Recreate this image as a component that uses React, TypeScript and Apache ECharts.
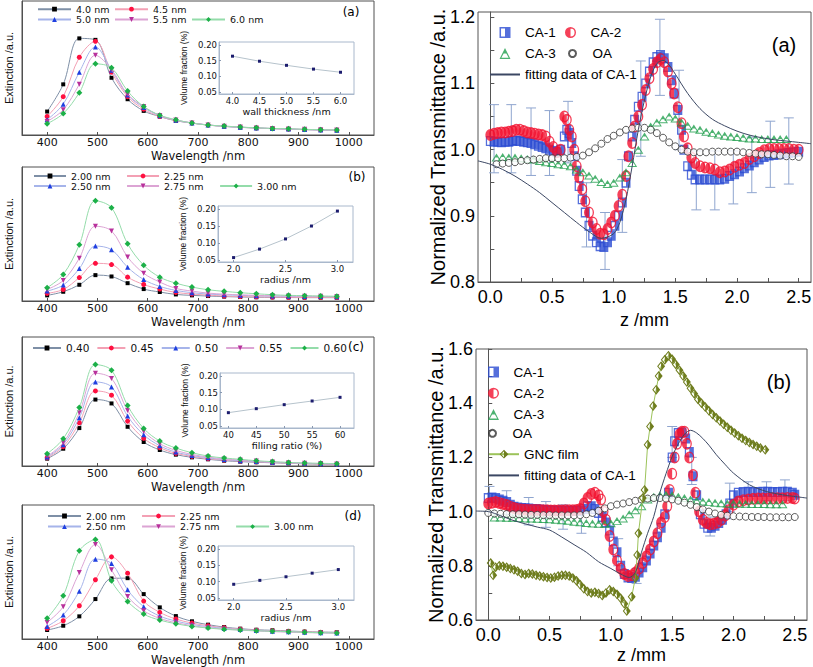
import React, { useEffect, useRef } from 'react';
import * as echarts from 'echarts';

// ================= LEFT PANELS: extinction spectra (relative units 0-100) =================
const wavelength = [400, 432, 464, 496, 528, 560, 592, 624, 656, 688, 720, 752, 784, 816, 848, 880, 912, 944, 976];
const wavelengthTicks = [400, 500, 600, 700, 800, 900, 1000];

const namesA = ['4.0 nm', '4.5 nm', '5.0 nm', '5.5 nm', '6.0 nm'];
const extA_40 = [17.5, 37.8, 72.1, 71.0, 42.7, 26.7, 18.0, 13.8, 10.6, 8.9, 7.4, 6.4, 5.7, 5.2, 4.7, 4.4, 4.0, 3.7, 3.5];
const extA_45 = [13.8, 28.6, 58.0, 69.9, 46.9, 28.6, 19.3, 13.8, 10.9, 8.9, 7.4, 6.5, 5.8, 5.2, 4.8, 4.4, 4.1, 3.8, 3.6];
const extA_50 = [11.4, 23.0, 46.9, 65.7, 48.4, 29.9, 20.5, 14.3, 11.1, 9.0, 7.5, 6.5, 5.8, 5.3, 4.8, 4.5, 4.1, 3.8, 3.6];
const extA_55 = [10.1, 18.8, 37.8, 59.5, 48.9, 30.4, 21.2, 14.6, 11.2, 9.0, 7.5, 6.6, 5.9, 5.3, 4.9, 4.5, 4.2, 3.9, 3.7];
const extA_60 = [8.4, 16.0, 31.6, 53.1, 50.1, 32.8, 21.2, 14.8, 11.4, 8.9, 7.4, 6.7, 5.9, 5.4, 4.9, 4.7, 4.2, 4.0, 3.7];

const namesB = ['2.00 nm', '2.25 nm', '2.50 nm', '2.75 nm', '3.00 nm'];
const extB_200 = [4.2, 6.9, 12.1, 19.3, 18.3, 13.3, 8.9, 6.7, 4.9, 4.2, 3.7, 3.3, 3.0, 2.8, 2.7, 2.6, 2.5, 2.5, 2.5];
const extB_225 = [5.7, 8.6, 17.5, 28.1, 27.2, 17.8, 12.3, 8.9, 6.4, 5.2, 4.4, 3.7, 3.3, 3.1, 2.9, 2.8, 2.7, 2.7, 2.6];
const extB_250 = [7.4, 11.9, 24.2, 41.0, 38.3, 25.2, 16.0, 10.9, 7.9, 6.2, 5.2, 4.6, 4.2, 3.9, 3.7, 3.5, 3.4, 3.3, 3.2];
const extB_275 = [8.6, 15.3, 31.9, 55.8, 52.3, 32.8, 20.7, 14.1, 9.4, 7.4, 5.9, 5.1, 4.6, 4.2, 3.9, 3.7, 3.6, 3.5, 3.4];
const extB_300 = [9.9, 19.8, 42.0, 74.8, 69.6, 42.7, 26.7, 17.8, 13.3, 10.4, 8.4, 7.2, 6.2, 5.4, 4.7, 4.2, 4.0, 3.7, 3.5];

const namesC = ['0.40', '0.45', '0.50', '0.55', '0.60'];
const extC_40 = [5.7, 13.4, 29.4, 51.5, 48.5, 30.4, 18.6, 12.4, 8.8, 6.7, 5.2, 4.1, 3.4, 2.9, 2.5, 2.1, 1.7, 1.4, 1.2];
const extC_45 = [6.4, 15.0, 33.5, 58.2, 54.9, 34.8, 21.4, 14.2, 9.8, 7.5, 5.7, 4.6, 3.8, 3.2, 2.7, 2.3, 1.9, 1.6, 1.4];
const extC_50 = [7.0, 16.5, 37.4, 65.2, 61.3, 38.7, 24.2, 15.7, 10.8, 8.2, 6.3, 5.0, 4.1, 3.5, 2.9, 2.5, 2.1, 1.8, 1.5];
const extC_55 = [7.5, 18.0, 41.2, 71.9, 67.8, 43.0, 26.8, 17.3, 12.1, 9.0, 6.9, 5.5, 4.6, 3.8, 3.1, 2.6, 2.2, 1.9, 1.6];
const extC_60 = [9.5, 21.1, 45.4, 78.6, 74.2, 46.9, 29.1, 19.3, 13.9, 10.3, 7.7, 6.2, 5.2, 4.1, 3.4, 2.8, 2.3, 2.1, 1.8];

const namesD = ['2.00 nm', '2.25 nm', '2.50 nm', '2.75 nm', '3.00 nm'];
const extD_200 = [6.7, 9.9, 16.9, 29.8, 45.2, 45.4, 33.5, 23.6, 17.1, 13.2, 10.7, 8.9, 7.7, 6.9, 6.5, 6.0, 5.5, 5.2, 5.0];
const extD_225 = [7.9, 13.6, 24.8, 44.2, 61.3, 49.1, 28.3, 19.9, 14.9, 11.9, 9.9, 8.4, 7.3, 6.6, 6.1, 5.7, 5.3, 5.0, 4.8];
const extD_250 = [9.4, 17.9, 35.7, 59.6, 56.3, 36.7, 24.1, 17.1, 13.4, 10.9, 9.2, 7.9, 7.0, 6.3, 5.8, 5.4, 5.0, 4.7, 4.5];
const extD_275 = [12.4, 24.1, 49.6, 70.5, 51.6, 31.8, 21.1, 15.4, 12.2, 10.0, 8.5, 7.4, 6.6, 6.0, 5.5, 5.1, 4.8, 4.5, 4.3];
const extD_300 = [15.4, 32.3, 65.8, 74.2, 43.4, 28.0, 18.6, 14.1, 11.4, 9.4, 8.2, 7.2, 6.7, 6.2, 5.7, 5.5, 5.0, 4.7, 4.5];

// ================= INSETS: volume fraction =================
const insetA_x = [4.0, 4.5, 5.0, 5.5, 6.0];
const insetA_y = [0.164, 0.148, 0.135, 0.123, 0.113];
const insetB_x = [2.0, 2.25, 2.5, 2.75, 3.0];
const insetB_y = [0.057, 0.082, 0.112, 0.150, 0.194];
const insetC_x = [40, 45, 50, 55, 60];
const insetC_y = [0.090, 0.102, 0.114, 0.125, 0.136];
const insetD_x = [2.0, 2.25, 2.5, 2.75, 3.0];
const insetD_y = [0.092, 0.104, 0.115, 0.126, 0.137];

// ================= RIGHT PANEL (a): Z-scan =================
const zTicksMajor = [0, 0.5, 1.0, 1.5, 2.0, 2.5];
const zTicksMinor = [0, 0.25, 0.5, 0.75, 1.0, 1.25, 1.5, 1.75, 2.0, 2.25, 2.5];
const tA_labels = [0.8, 0.9, 1.0, 1.1, 1.2];
const tA_ticks = [0.8, 0.85, 0.9, 0.95, 1.0, 1.05, 1.1, 1.15, 1.2];
const tB_labels = [0.6, 0.8, 1.0, 1.2, 1.4, 1.6];
const tB_ticks = [0.6, 0.7, 0.8, 0.9, 1.0, 1.1, 1.2, 1.3, 1.4, 1.5, 1.6];

const caA1 = [[0.0,1.013],[0.03,1.012],[0.06,1.012],[0.09,1.011],[0.12,1.012],[0.15,1.012],[0.18,1.013],[0.21,1.014],[0.24,1.013],[0.27,1.012],[0.30,1.011],[0.33,1.010],[0.36,1.008],[0.39,1.006],[0.42,1.004],[0.45,1.002],[0.48,1.000],[0.51,0.998],[0.54,0.996],[0.57,1.000],[0.60,1.020],[0.62,1.030],[0.64,1.025],[0.66,1.010],[0.68,0.990],[0.70,0.968],[0.72,0.945],[0.745,0.925],[0.77,0.905],[0.80,0.885],[0.83,0.870],[0.86,0.860],[0.89,0.854],[0.92,0.853],[0.95,0.860],[0.98,0.870],[1.01,0.885],[1.04,0.900],[1.07,0.920],[1.10,0.950],[1.12,0.990],[1.15,1.020],[1.17,1.045],[1.20,1.065],[1.23,1.080],[1.26,1.100],[1.29,1.118],[1.32,1.132],[1.35,1.140],[1.38,1.143],[1.41,1.138],[1.44,1.125],[1.47,1.105],[1.49,1.085],[1.52,1.060],[1.55,1.030],[1.57,1.000],[1.60,0.975],[1.63,0.962],[1.66,0.955],[1.70,0.955],[1.74,0.955],[1.78,0.955],[1.82,0.955],[1.86,0.955],[1.90,0.956],[1.94,0.960],[1.98,0.963],[2.02,0.967],[2.06,0.972],[2.10,0.976],[2.14,0.981],[2.18,0.985],[2.22,0.989],[2.26,0.991],[2.30,0.992],[2.34,0.993],[2.38,0.994],[2.42,0.995],[2.46,0.996],[2.50,0.997]];
const caA2 = [[0.0,1.022],[0.03,1.024],[0.06,1.025],[0.09,1.026],[0.12,1.026],[0.15,1.027],[0.18,1.028],[0.21,1.030],[0.24,1.030],[0.27,1.028],[0.30,1.026],[0.33,1.025],[0.36,1.024],[0.39,1.023],[0.42,1.022],[0.45,1.020],[0.48,1.012],[0.51,1.004],[0.54,0.996],[0.57,1.000],[0.60,1.050],[0.62,1.045],[0.64,1.030],[0.66,1.020],[0.68,1.000],[0.70,0.975],[0.72,0.958],[0.745,0.940],[0.77,0.922],[0.80,0.905],[0.83,0.890],[0.86,0.880],[0.89,0.873],[0.92,0.872],[0.95,0.880],[0.98,0.890],[1.01,0.900],[1.04,0.915],[1.07,0.932],[1.10,0.960],[1.12,0.990],[1.15,1.010],[1.17,1.035],[1.20,1.050],[1.23,1.068],[1.26,1.090],[1.29,1.108],[1.32,1.122],[1.35,1.132],[1.38,1.137],[1.41,1.132],[1.44,1.118],[1.47,1.100],[1.49,1.085],[1.52,1.064],[1.55,1.040],[1.57,1.020],[1.60,1.002],[1.63,0.988],[1.66,0.980],[1.70,0.975],[1.74,0.973],[1.78,0.972],[1.82,0.970],[1.86,0.966],[1.90,0.967],[1.94,0.970],[1.98,0.974],[2.02,0.977],[2.06,0.980],[2.10,0.986],[2.14,0.990],[2.18,0.995],[2.22,0.999],[2.26,1.001],[2.30,1.001],[2.34,1.001],[2.38,1.001],[2.42,1.001],[2.46,1.000],[2.50,1.000]];
const caA3 = [[0.05,0.988],[0.1,0.989],[0.15,0.988],[0.2,0.988],[0.25,0.987],[0.3,0.986],[0.35,0.985],[0.4,0.983],[0.45,0.981],[0.5,0.980],[0.55,0.978],[0.6,0.977],[0.65,0.975],[0.7,0.970],[0.75,0.966],[0.8,0.961],[0.85,0.956],[0.9,0.951],[0.95,0.948],[1.0,0.950],[1.05,0.958],[1.1,0.966],[1.15,0.980],[1.2,1.000],[1.25,1.020],[1.3,1.035],[1.35,1.041],[1.4,1.046],[1.45,1.050],[1.5,1.047],[1.55,1.041],[1.6,1.036],[1.65,1.032],[1.7,1.030],[1.75,1.027],[1.8,1.025],[1.85,1.023],[1.9,1.021],[1.95,1.020],[2.0,1.019],[2.05,1.018],[2.1,1.017],[2.15,1.017],[2.2,1.016],[2.25,1.016],[2.3,1.016],[2.35,1.016],[2.4,1.016]];
const oaA = [[0.05,0.978],[0.1,0.979],[0.15,0.980],[0.2,0.981],[0.25,0.983],[0.3,0.984],[0.35,0.985],[0.4,0.986],[0.45,0.987],[0.5,0.987],[0.55,0.987],[0.6,0.987],[0.65,0.988],[0.7,0.989],[0.75,0.991],[0.8,0.996],[0.85,1.002],[0.9,1.009],[0.95,1.016],[1.0,1.021],[1.05,1.026],[1.1,1.030],[1.15,1.032],[1.2,1.033],[1.25,1.033],[1.3,1.030],[1.35,1.025],[1.4,1.018],[1.45,1.011],[1.5,1.005],[1.55,1.000],[1.6,0.997],[1.65,0.996],[1.7,0.996],[1.75,0.996],[1.8,0.997],[1.85,0.997],[1.9,0.997],[1.95,0.997],[2.0,0.997],[2.05,0.996],[2.1,0.995],[2.15,0.994],[2.2,0.993],[2.25,0.993],[2.3,0.992],[2.35,0.991],[2.4,0.990],[2.45,0.990],[2.5,0.989]];
const fitA = [[-0.1,0.983],[0.0,0.978],[0.1,0.970],[0.2,0.960],[0.3,0.948],[0.4,0.935],[0.5,0.920],[0.6,0.905],[0.7,0.890],[0.8,0.876],[0.9,0.866],[1.0,0.873],[1.05,0.890],[1.1,0.925],[1.15,0.975],[1.2,1.030],[1.25,1.075],[1.3,1.110],[1.35,1.130],[1.4,1.135],[1.45,1.128],[1.5,1.114],[1.6,1.085],[1.7,1.062],[1.8,1.046],[1.9,1.036],[2.0,1.028],[2.1,1.022],[2.2,1.018],[2.3,1.015],[2.4,1.013],[2.5,1.011],[2.6,1.009]];
const errA = [[0.03,0.965,1.068],[0.17,0.965,1.068],[0.33,0.961,1.063],[0.48,0.961,1.059],[0.63,0.980,1.073],[0.78,0.853,0.950],[0.93,0.819,0.905],[1.07,0.875,0.985],[1.22,0.990,1.134],[1.375,1.082,1.197],[1.53,1.000,1.120],[1.67,0.909,0.998],[1.82,0.909,0.998],[1.97,0.918,0.998],[2.12,0.935,1.019],[2.27,0.943,1.043],[2.42,0.948,1.048]];

// ================= RIGHT PANEL (b) =================
const caB1 = [[0.0,1.05],[0.03,1.052],[0.06,1.05],[0.09,1.045],[0.12,1.04],[0.15,1.035],[0.18,1.025],[0.21,1.018],[0.24,1.015],[0.27,1.013],[0.3,1.012],[0.33,1.011],[0.36,1.01],[0.39,1.01],[0.42,1.008],[0.45,1.006],[0.48,1.005],[0.51,1.004],[0.54,1.004],[0.57,1.003],[0.6,1.003],[0.63,1.003],[0.66,1.003],[0.69,1.003],[0.72,1.003],[0.75,1.004],[0.78,1.01],[0.81,1.02],[0.84,1.02],[0.87,1.01],[0.9,0.995],[0.93,0.98],[0.96,0.96],[0.99,0.93],[1.02,0.89],[1.05,0.85],[1.08,0.8],[1.11,0.77],[1.14,0.757],[1.17,0.755],[1.2,0.76],[1.23,0.775],[1.26,0.795],[1.29,0.82],[1.32,0.845],[1.35,0.875],[1.38,0.905],[1.41,0.94],[1.44,0.99],[1.47,1.07],[1.5,1.2],[1.52,1.26],[1.55,1.29],[1.58,1.292],[1.61,1.27],[1.64,1.22],[1.67,1.13],[1.7,1.06],[1.73,0.99],[1.76,0.955],[1.79,0.94],[1.82,0.94],[1.85,0.948],[1.88,0.958],[1.91,0.97],[1.94,0.99],[1.97,1.03],[2.0,1.06],[2.04,1.07],[2.08,1.072],[2.12,1.073],[2.16,1.072],[2.2,1.072],[2.24,1.073],[2.28,1.073],[2.32,1.072],[2.36,1.072],[2.4,1.073],[2.44,1.073],[2.48,1.07],[2.5,1.062]];
const caB2 = [[0.0,1.03],[0.03,1.033],[0.06,1.035],[0.09,1.032],[0.12,1.028],[0.15,1.024],[0.18,1.018],[0.21,1.013],[0.24,1.01],[0.27,1.008],[0.3,1.007],[0.33,1.006],[0.36,1.006],[0.39,1.006],[0.42,1.006],[0.45,1.005],[0.48,1.005],[0.51,1.004],[0.54,1.004],[0.57,1.004],[0.6,1.004],[0.63,1.005],[0.66,1.005],[0.69,1.005],[0.72,1.006],[0.75,1.01],[0.78,1.03],[0.81,1.05],[0.84,1.065],[0.87,1.07],[0.9,1.06],[0.92,1.045],[0.94,1.0],[0.96,0.97],[0.99,0.91],[1.02,0.86],[1.05,0.82],[1.08,0.79],[1.11,0.77],[1.14,0.762],[1.17,0.765],[1.2,0.775],[1.23,0.79],[1.26,0.81],[1.29,0.835],[1.32,0.86],[1.35,0.89],[1.38,0.92],[1.41,0.96],[1.44,0.98],[1.46,1.02],[1.48,1.08],[1.5,1.14],[1.52,1.2],[1.54,1.25],[1.56,1.285],[1.58,1.295],[1.6,1.295],[1.62,1.25],[1.64,1.2],[1.67,1.135],[1.69,1.07],[1.72,1.0],[1.75,0.97],[1.78,0.958],[1.81,0.953],[1.84,0.955],[1.87,0.96],[1.9,0.97],[1.93,0.985],[1.96,1.005],[2.0,1.025],[2.04,1.037],[2.08,1.042],[2.12,1.045],[2.16,1.047],[2.2,1.048],[2.24,1.048],[2.28,1.048],[2.32,1.049],[2.36,1.049],[2.4,1.049],[2.44,1.05],[2.48,1.05],[2.5,1.048]];
const caB3 = [[0.05,0.978],[0.1,0.978],[0.15,0.977],[0.2,0.977],[0.25,0.976],[0.3,0.975],[0.35,0.975],[0.4,0.974],[0.45,0.973],[0.5,0.972],[0.55,0.97],[0.6,0.968],[0.65,0.966],[0.7,0.963],[0.75,0.961],[0.8,0.958],[0.85,0.956],[0.9,0.955],[0.95,0.955],[1.0,0.957],[1.05,0.965],[1.1,0.975],[1.15,0.99],[1.2,1.005],[1.25,1.02],[1.3,1.045],[1.35,1.055],[1.4,1.06],[1.45,1.062],[1.5,1.06],[1.55,1.055],[1.6,1.05],[1.65,1.045],[1.7,1.04],[1.75,1.037],[1.8,1.035],[1.85,1.033],[1.9,1.031],[1.95,1.03],[2.0,1.03],[2.05,1.029],[2.1,1.029],[2.15,1.028],[2.2,1.028],[2.25,1.028],[2.3,1.027],[2.35,1.027],[2.4,1.027]];
const oaB = [[0.0,0.995],[0.05,0.993],[0.1,0.992],[0.15,0.991],[0.2,0.99],[0.25,0.99],[0.3,0.989],[0.35,0.988],[0.4,0.988],[0.45,0.987],[0.5,0.987],[0.55,0.986],[0.6,0.986],[0.65,0.986],[0.7,0.986],[0.75,0.987],[0.8,0.99],[0.85,0.995],[0.9,1.003],[0.95,1.012],[1.0,1.02],[1.05,1.026],[1.1,1.03],[1.15,1.035],[1.2,1.04],[1.25,1.045],[1.3,1.048],[1.35,1.05],[1.4,1.05],[1.45,1.048],[1.5,1.045],[1.55,1.04],[1.6,1.033],[1.65,1.025],[1.7,1.017],[1.75,1.008],[1.8,1.0],[1.85,0.993],[1.9,0.988],[1.95,0.985],[2.0,0.983],[2.05,0.982],[2.1,0.981],[2.15,0.98],[2.2,0.98],[2.25,0.98],[2.3,0.979],[2.35,0.979],[2.4,0.979],[2.45,0.979],[2.5,0.98]];
const gncB = [[0.02,0.81],[0.04,0.765],[0.06,0.795],[0.09,0.8],[0.12,0.798],[0.15,0.795],[0.18,0.79],[0.21,0.785],[0.24,0.78],[0.27,0.772],[0.3,0.768],[0.33,0.772],[0.36,0.77],[0.39,0.765],[0.42,0.762],[0.45,0.76],[0.48,0.757],[0.51,0.755],[0.54,0.758],[0.57,0.762],[0.6,0.765],[0.63,0.765],[0.66,0.762],[0.69,0.755],[0.72,0.745],[0.75,0.73],[0.78,0.715],[0.81,0.705],[0.84,0.7],[0.87,0.702],[0.9,0.698],[0.93,0.69],[0.96,0.7],[0.99,0.712],[1.02,0.705],[1.05,0.695],[1.08,0.68],[1.11,0.66],[1.13,0.633],[1.17,0.686],[1.2,0.755],[1.215,0.84],[1.225,0.92],[1.26,1.05],[1.275,1.08],[1.3,1.247],[1.32,1.314],[1.345,1.39],[1.37,1.45],[1.39,1.5],[1.41,1.536],[1.44,1.56],[1.47,1.575],[1.5,1.562],[1.53,1.543],[1.56,1.522],[1.59,1.5],[1.62,1.478],[1.65,1.455],[1.68,1.435],[1.71,1.415],[1.74,1.4],[1.77,1.386],[1.8,1.372],[1.83,1.358],[1.86,1.346],[1.89,1.334],[1.92,1.322],[1.95,1.311],[1.98,1.3],[2.01,1.29],[2.04,1.28],[2.07,1.271],[2.1,1.262],[2.13,1.255],[2.16,1.248],[2.19,1.241],[2.22,1.235],[2.26,1.228]];
const fitB = [[-0.1,1.002],[0.0,1.0],[0.1,0.985],[0.2,0.968],[0.3,0.955],[0.4,0.943],[0.5,0.932],[0.6,0.906],[0.7,0.878],[0.8,0.85],[0.9,0.815],[1.0,0.79],[1.1,0.765],[1.15,0.757],[1.2,0.775],[1.25,0.85],[1.3,0.92],[1.35,0.982],[1.4,1.07],[1.45,1.14],[1.5,1.203],[1.55,1.25],[1.6,1.285],[1.65,1.3],[1.7,1.29],[1.75,1.27],[1.8,1.245],[1.86,1.21],[1.93,1.175],[2.0,1.142],[2.13,1.099],[2.27,1.074],[2.4,1.062],[2.6,1.05]];
const errB = [[0.01,1.0,1.093],[0.15,0.99,1.077],[0.33,0.951,1.052],[0.47,0.942,1.037],[0.61,0.935,1.025],[0.76,0.92,1.018],[1.06,0.80,0.90],[1.21,0.735,0.79],[1.5,1.2,1.314],[1.66,1.1,1.2],[1.81,0.91,0.98],[1.97,1.0,1.105],[2.12,1.03,1.11],[2.27,1.04,1.11],[2.42,1.04,1.117]];

// ---------------- styles ----------------
const FD = 'DejaVu Sans';
const FL = 'Liberation Sans, Arial, sans-serif';
const markColors = ['#000000', '#ff1040', '#1f3fe0', '#b8309c', '#1cb048'];
const lineColors = ['#7e8fa6', '#f3a0b4', '#a6b4ea', '#dca4d4', '#94dcaa'];
const markSymbols = ['rect', 'circle', 'triangle', 'path://M0 0L10 0L5 8.66Z', 'diamond'];
const markSizes = [4, 5, 5, 5, 6];

const SYM_SQ = 'path://M0 0L10 0L10 10L0 10Z M1.4 1.4L1.4 8.6L8.6 8.6L8.6 1.4Z M5 0L10 0L10 10L5 10Z';
const SYM_CI = 'path://M5 0A5 5 0 1 1 5 10A5 5 0 1 1 5 0Z M5 1.3A3.7 3.7 0 1 0 5 8.7A3.7 3.7 0 1 0 5 1.3Z M5 10A5 5 0 0 1 5 0Z';
const SYM_TR = 'path://M5 0L10 10L0 10Z M5 2.8L1.7 8.8L8.3 8.8Z M5 0L7.5 5L2.5 5Z';
const SYM_DI = 'path://M5 0L10 5L5 10L0 5Z M5 1.6L1.6 5L5 8.4L8.4 5Z M5 0L10 5L5 10Z';

function buildOption() {
  const grid: any[] = [];
  const xAxis: any[] = [];
  const yAxis: any[] = [];
  const series: any[] = [];
  const legend: any[] = [];
  const graphic: any[] = [];

  // ---------- left main panels ----------
  const leftPanels = [
    { top: 1, height: 134, names: namesA, vals: [extA_40, extA_45, extA_50, extA_55, extA_60] },
    { top: 167, height: 134, names: namesB, vals: [extB_200, extB_225, extB_250, extB_275, extB_300] },
    { top: 337, height: 129, names: namesC, vals: [extC_40, extC_45, extC_50, extC_55, extC_60] },
    { top: 505, height: 134, names: namesD, vals: [extD_200, extD_225, extD_250, extD_275, extD_300] },
  ];
  leftPanels.forEach((p, gi) => {
    grid.push({ left: 22, top: p.top, width: 352, height: p.height, show: true, borderColor: '#505050', borderWidth: 1, containLabel: false, outerBoundsMode: 'none' });
    xAxis.push({
      type: 'value', gridIndex: gi, min: 350, max: 1050,
      name: 'Wavelength /nm', nameLocation: 'middle', nameGap: 14.5, nameMoveOverlap: false,
      nameTextStyle: { fontFamily: FD, fontSize: 11.5, color: '#111' },
      axisLine: { show: true, lineStyle: { color: '#505050' } },
      axisTick: { show: true, inside: true, length: 3, customValues: wavelengthTicks, lineStyle: { color: '#505050' } },
      axisLabel: { customValues: wavelengthTicks, margin: 2, fontFamily: FD, fontSize: 11, color: '#111', formatter: (v: number) => String(v) },
      splitLine: { show: false },
    });
    yAxis.push({
      type: 'value', gridIndex: gi, min: 0, max: 100,
      name: 'Extinction /a.u.', nameLocation: 'middle', nameGap: 8, nameMoveOverlap: false,
      nameTextStyle: { fontFamily: FL, fontSize: 11, color: '#111' },
      axisLine: { show: true, lineStyle: { color: '#505050' } },
      axisTick: { show: false }, axisLabel: { show: false }, splitLine: { show: false },
    });
    p.names.forEach((nm, k) => {
      series.push({
        type: 'line', name: nm, xAxisIndex: gi, yAxisIndex: gi,
        data: wavelength.map((w, i) => [w, p.vals[k][i]]),
        smooth: 0.35, showAllSymbol: true,
        symbol: markSymbols[k], symbolSize: markSizes[k],
        lineStyle: { color: lineColors[k], width: 1 },
        itemStyle: { color: markColors[k] },
        z: 3 + k,
      });
    });
  });

  // ---------- insets ----------
  const insets = [
    { left: 219, top: 42, width: 135, height: 52, xmin: 3.75, xmax: 6.25, ticks: [4, 4.5, 5, 5.5, 6], dec: 1, name: 'wall thickness /nm', xs: insetA_x, ys: insetA_y },
    { left: 218, top: 206, width: 135, height: 56, xmin: 1.85, xmax: 3.15, ticks: [2, 2.5, 3], dec: 1, name: 'radius /nm', xs: insetB_x, ys: insetB_y },
    { left: 220, top: 373, width: 134, height: 55, xmin: 38.5, xmax: 62.5, ticks: [40, 45, 50, 55, 60], dec: 0, name: 'filling ratio (%)', xs: insetC_x, ys: insetC_y },
    { left: 218, top: 546, width: 136, height: 54, xmin: 1.85, xmax: 3.15, ticks: [2, 2.5, 3], dec: 1, name: 'radius /nm', xs: insetD_x, ys: insetD_y },
  ];
  insets.forEach((p, j) => {
    const gi = 4 + j;
    grid.push({ left: p.left, top: p.top, width: p.width, height: p.height, show: true, borderColor: '#a9b8cc', borderWidth: 1, containLabel: false, outerBoundsMode: 'none' });
    xAxis.push({
      type: 'value', gridIndex: gi, min: p.xmin, max: p.xmax,
      name: p.name, nameLocation: 'middle', nameGap: 12, nameMoveOverlap: false,
      nameTextStyle: { fontFamily: FD, fontSize: 9.5, color: '#111' },
      axisLine: { show: true, lineStyle: { color: '#a9b8cc' } },
      axisTick: { show: true, inside: true, length: 2, customValues: p.ticks, lineStyle: { color: '#8898b0' } },
      axisLabel: { customValues: p.ticks, margin: 2, fontFamily: FD, fontSize: 8.5, color: '#111', formatter: (v: number) => v.toFixed(p.dec) },
      splitLine: { show: false },
    });
    yAxis.push({
      type: 'value', gridIndex: gi, min: 0.044, max: 0.209,
      name: 'Volume fraction (%)', nameLocation: 'middle', nameGap: 31, nameMoveOverlap: false,
      nameTextStyle: { fontFamily: FL, fontSize: 8.5, color: '#111' },
      axisLine: { show: true, lineStyle: { color: '#a9b8cc' } },
      axisTick: { show: true, inside: true, length: 2, customValues: [0.05, 0.1, 0.15, 0.2], lineStyle: { color: '#8898b0' } },
      axisLabel: { customValues: [0.05, 0.1, 0.15, 0.2], margin: 2, fontFamily: FD, fontSize: 8.5, color: '#111', formatter: (v: number) => v.toFixed(2) },
      splitLine: { show: false },
    });
    series.push({
      type: 'line', xAxisIndex: gi, yAxisIndex: gi,
      data: p.xs.map((x, i) => [x, p.ys[i]]),
      symbol: 'rect', symbolSize: 3, showAllSymbol: true,
      lineStyle: { color: '#b6c3cc', width: 1 }, itemStyle: { color: '#1c1c6e' }, z: 5,
    });
  });

  // ---------- right panels ----------
  const rightPanels = [
    { left: 478, top: 12, width: 333, height: 270, ymin: 0.8, ymax: 1.208, labels: tA_labels, ticks: tA_ticks, xGap: 29 },
    { left: 476, top: 349, width: 331, height: 271, ymin: 0.6, ymax: 1.6, labels: tB_labels, ticks: tB_ticks, xGap: 26 },
  ];
  rightPanels.forEach((p, j) => {
    const gi = 8 + j;
    grid.push({ left: p.left, top: p.top, width: p.width, height: p.height, show: true, borderColor: '#555', borderWidth: 1, containLabel: false, outerBoundsMode: 'none' });
    xAxis.push({
      type: 'value', gridIndex: gi, min: -0.1, max: 2.6,
      name: 'z /mm', nameLocation: 'middle', nameGap: p.xGap, nameMoveOverlap: false,
      nameTextStyle: { fontFamily: FL, fontSize: 18, color: '#000' },
      axisLine: { show: true, lineStyle: { color: '#555' } },
      axisTick: { show: true, inside: true, length: 4, customValues: zTicksMinor, lineStyle: { color: '#555' } },
      axisLabel: { customValues: zTicksMajor, margin: 6, fontFamily: FL, fontSize: 18, color: '#000', formatter: (v: number) => v.toFixed(1) },
      splitLine: { show: false },
    });
    yAxis.push({
      type: 'value', gridIndex: gi, min: p.ymin, max: p.ymax,
      name: 'Normalized Transmittance /a.u.', nameLocation: 'middle', nameGap: 30, nameMoveOverlap: false,
      nameTextStyle: { fontFamily: FL, fontSize: 20, color: '#000' },
      axisLine: { show: true, lineStyle: { color: '#555' } },
      axisTick: { show: true, inside: true, length: 4, customValues: p.ticks, lineStyle: { color: '#555' } },
      axisLabel: { customValues: p.labels, margin: 3, fontFamily: FL, fontSize: 18, color: '#000', formatter: (v: number) => v.toFixed(1) },
      splitLine: { show: false },
    });
  });

  const errRender = (params: any, api: any) => {
    const x = api.value(0), lo = api.value(1), hi = api.value(2);
    const p1 = api.coord([x, lo]);
    const p2 = api.coord([x, hi]);
    const w = 5;
    const st = { stroke: '#8fa5cf', lineWidth: 1 };
    return {
      type: 'group',
      children: [
        { type: 'line', shape: { x1: p1[0], y1: p1[1], x2: p2[0], y2: p2[1] }, style: st },
        { type: 'line', shape: { x1: p1[0] - w, y1: p1[1], x2: p1[0] + w, y2: p1[1] }, style: st },
        { type: 'line', shape: { x1: p2[0] - w, y1: p2[1], x2: p2[0] + w, y2: p2[1] }, style: st },
      ],
    };
  };

  const clear = 'rgba(0,0,0,0)';
  const rightSeries = (gi: number, d: any) => {
    series.push({ type: 'custom', xAxisIndex: gi, yAxisIndex: gi, data: d.err, renderItem: errRender, encode: { x: 0, y: [1, 2] }, z: 2 });
    series.push({ type: 'scatter', name: 'CA-1', xAxisIndex: gi, yAxisIndex: gi, data: d.ca1, symbol: SYM_SQ, symbolSize: [9, 10], itemStyle: { color: '#2a4bd2' }, z: 3 });
    series.push({ type: 'scatter', name: 'CA-2', xAxisIndex: gi, yAxisIndex: gi, data: d.ca2, symbol: SYM_CI, symbolSize: [10, 12], itemStyle: { color: '#f2102e' }, z: 4 });
    series.push({ type: 'scatter', name: 'CA-3', xAxisIndex: gi, yAxisIndex: gi, data: d.ca3, symbol: SYM_TR, symbolSize: [10, 8], itemStyle: { color: '#1f9f4c' }, z: 5 });
    series.push({ type: 'scatter', name: 'OA', xAxisIndex: gi, yAxisIndex: gi, data: d.oa, symbol: 'circle', symbolSize: 7, itemStyle: { color: '#ffffff', borderColor: '#333', borderWidth: 1 }, z: 6 });
    if (d.gnc) {
      series.push({ type: 'line', name: 'GNC film', xAxisIndex: gi, yAxisIndex: gi, data: d.gnc, symbol: SYM_DI, symbolSize: [8, 10], showAllSymbol: true, lineStyle: { color: '#9cc35a', width: 1 }, itemStyle: { color: '#6f7d1e' }, z: 7 });
    }
    series.push({ type: 'line', name: 'fitting data of CA-1', xAxisIndex: gi, yAxisIndex: gi, data: d.fit, smooth: 0.3, symbol: 'none', lineStyle: { color: '#3b4763', width: 1 }, itemStyle: { color: clear, borderColor: clear, borderWidth: 0 }, z: 8 });
  };
  rightSeries(8, { err: errA, ca1: caA1, ca2: caA2, ca3: caA3, oa: oaA, fit: fitA });
  rightSeries(9, { err: errB, ca1: caB1, ca2: caB2, ca3: caB3, oa: oaB, gnc: gncB, fit: fitB });

  // ---------- legends ----------
  const lg = (data: any[], left: number, top: number, opts: any) => ({
    data, left, top, padding: 0, selectedMode: false, orient: 'horizontal', ...opts,
  });
  const lts = (fs: number) => ({ fontFamily: FD, fontSize: fs, color: '#111' });
  legend.push(lg(['4.0 nm', '4.5 nm'], 37, 4.2, { itemWidth: 33, itemHeight: 6, itemGap: 4.6, textStyle: lts(9.5) }));
  legend.push(lg(['5.0 nm', '5.5 nm', '6.0 nm'], 37, 14.5, { itemWidth: 33, itemHeight: 6, itemGap: 4.6, textStyle: lts(9.5) }));
  legend.push(lg(['2.00 nm', '2.25 nm'], 33, 171, { itemWidth: 32, itemHeight: 6, itemGap: 15.6, textStyle: lts(9.5) }));
  legend.push(lg(['2.50 nm', '2.75 nm', '3.00 nm'], 33, 181, { itemWidth: 32, itemHeight: 6, itemGap: 15.6, textStyle: lts(9.5) }));
  legend.push(lg(namesC, 32, 342.5, { itemWidth: 28, itemHeight: 6, itemGap: 7, textStyle: lts(10.5) }));
  legend.push(lg(['2.00 nm', '2.25 nm'], 47, 511, { itemWidth: 33, itemHeight: 6, itemGap: 15.6, textStyle: lts(9.5) }));
  legend.push(lg(['2.50 nm', '2.75 nm', '3.00 nm'], 47, 521.6, { itemWidth: 33, itemHeight: 6, itemGap: 15.6, textStyle: lts(9.5) }));

  const rts = { fontFamily: FL, fontSize: 13.5, color: '#000' };
  const fitItem = { name: 'fitting data of CA-1', itemStyle: { color: clear, borderColor: clear, borderWidth: 0 } };
  legend.push(lg(['CA-1', 'CA-3', fitItem], 489, 25.5, { orient: 'vertical', itemWidth: 30, itemHeight: 11, itemGap: 7, textStyle: rts }));
  legend.push(lg(['CA-2'], 565, 25.5, { orient: 'vertical', itemWidth: 30, itemHeight: 11, itemGap: 7, textStyle: rts }));
  legend.push(lg(['OA'], 568, 46.5, { orient: 'vertical', itemWidth: 30, itemHeight: 7, itemGap: 7, textStyle: rts }));
  legend.push(lg(['CA-1', 'CA-2', 'CA-3'], 488, 365, { orient: 'vertical', itemWidth: 30, itemHeight: 11, itemGap: 7.2, textStyle: rts }));
  legend.push(lg(['OA'], 488, 426.3, { orient: 'vertical', itemWidth: 30, itemHeight: 7, itemGap: 7.2, textStyle: rts }));
  legend.push(lg(['GNC film', fitItem], 488, 447.2, { orient: 'vertical', itemWidth: 30, itemHeight: 11, itemGap: 7.2, textStyle: rts }));

  // ---------- panel tags ----------
  const tag = (text: string, x: number, y: number, fs: number, ff: string) => ({
    type: 'text', x, y, z: 20,
    style: { text, fontSize: fs, fontFamily: ff, fill: '#000', align: 'center', verticalAlign: 'middle' },
  });
  graphic.push(tag('(a)', 351, 12, 12, FD));
  graphic.push(tag('(b)', 357, 176.7, 12, FD));
  graphic.push(tag('(c)', 356, 347.3, 12, FD));
  graphic.push(tag('(d)', 353, 515.7, 12, FD));
  graphic.push(tag('(a)', 784, 45, 20, FL));
  graphic.push(tag('(b)', 779, 382, 20, FL));

  return {
    animation: false,
    backgroundColor: '#ffffff',
    textStyle: { fontFamily: FL },
    grid, xAxis, yAxis, series, legend, graphic,
  };
}

export default function App() {
  const ref = useRef<HTMLDivElement>(null);
  useEffect(() => {
    if (!ref.current) return;
    const chart = echarts.init(ref.current, undefined, { renderer: 'svg' });
    chart.setOption(buildOption() as any);
    return () => chart.dispose();
  }, []);
  return (
    <div
      ref={ref}
      style={{ position: 'fixed', left: 0, top: 0, width: 813, height: 667, background: '#fff' }}
    />
  );
}
